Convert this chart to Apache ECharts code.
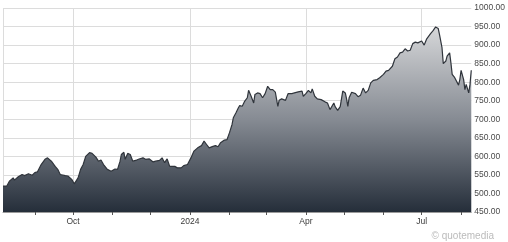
<!DOCTYPE html>
<html>
<head>
<meta charset="utf-8">
<script src="https://cdn.jsdelivr.net/npm/echarts@6/dist/echarts.min.js"></script>
<style>html,body{margin:0;padding:0;background:#fff}#c{width:508px;height:242px}</style>
</head>
<body>
<div id="c"></div>
<script>
var startDate = '2023-08-07';
var endDate = '2024-08-09';
var dates = ['2023-08-07','2023-08-10','2023-08-12','2023-08-15','2023-08-16','2023-08-19','2023-08-22','2023-08-24','2023-08-27','2023-08-30',
'2023-09-01','2023-09-03','2023-09-06','2023-09-09','2023-09-11','2023-09-14','2023-09-17','2023-09-19','2023-09-21','2023-09-25','2023-09-27','2023-09-30',
'2023-10-02','2023-10-05','2023-10-07','2023-10-09','2023-10-11','2023-10-14','2023-10-16','2023-10-19','2023-10-21','2023-10-23','2023-10-25','2023-10-26','2023-10-28','2023-10-31',
'2023-11-01','2023-11-03','2023-11-05','2023-11-07','2023-11-08','2023-11-10','2023-11-11','2023-11-12','2023-11-13','2023-11-15','2023-11-17','2023-11-20','2023-11-22','2023-11-25','2023-11-27','2023-11-30',
'2023-12-03','2023-12-05','2023-12-08','2023-12-10','2023-12-12','2023-12-14','2023-12-16','2023-12-17','2023-12-20','2023-12-22','2023-12-25','2023-12-27','2023-12-30',
'2024-01-02','2024-01-04','2024-01-05','2024-01-07','2024-01-10','2024-01-12','2024-01-14','2024-01-16','2024-01-19','2024-01-21','2024-01-23','2024-01-25','2024-01-28','2024-01-30',
'2024-02-01','2024-02-03','2024-02-04','2024-02-06','2024-02-08','2024-02-09','2024-02-11','2024-02-13','2024-02-15','2024-02-16','2024-02-18','2024-02-20','2024-02-21','2024-02-23','2024-02-25','2024-02-27','2024-02-29',
'2024-03-02','2024-03-04','2024-03-06','2024-03-08','2024-03-10','2024-03-11','2024-03-13','2024-03-16','2024-03-18','2024-03-21','2024-03-23','2024-03-26','2024-03-29','2024-03-30',
'2024-04-01','2024-04-03','2024-04-05','2024-04-06','2024-04-08','2024-04-10','2024-04-13','2024-04-14','2024-04-16','2024-04-18','2024-04-20','2024-04-21','2024-04-23','2024-04-24','2024-04-26','2024-04-28','2024-04-30',
'2024-05-02','2024-05-03','2024-05-04','2024-05-05','2024-05-07','2024-05-10','2024-05-12','2024-05-14','2024-05-16','2024-05-18','2024-05-20','2024-05-22','2024-05-24','2024-05-27','2024-05-29',
'2024-06-01','2024-06-03','2024-06-05','2024-06-08','2024-06-10','2024-06-12','2024-06-14','2024-06-16','2024-06-18','2024-06-20','2024-06-22','2024-06-24','2024-06-26','2024-06-28',
'2024-07-01','2024-07-03','2024-07-05','2024-07-08','2024-07-10','2024-07-12','2024-07-14','2024-07-15','2024-07-17','2024-07-18','2024-07-20','2024-07-21','2024-07-23','2024-07-24','2024-07-25','2024-07-27','2024-07-28','2024-07-30','2024-07-31',
'2024-08-01','2024-08-03','2024-08-04','2024-08-05','2024-08-07','2024-08-08','2024-08-09'];
var prices = [520,520,533,542,536,545,551,548,553,549,
556,558,578,592,596,587,573,565,551,548,547,538,
526,542,565,578,600,610,608,598,587,590,578,583,565,560,
556,566,565,587,605,611,592,596,608,605,587,590,593,596,592,593,
585,587,589,596,583,593,573,578,573,569,569,575,578,
598,614,618,623,629,641,632,623,627,629,626,637,644,645,
664,686,704,717,731,737,735,749,758,778,762,744,767,771,769,758,769,
789,780,780,773,735,751,755,751,769,769,771,774,776,762,
769,778,771,782,762,755,753,749,747,744,726,731,744,734,724,734,776,
771,755,735,758,773,769,761,765,784,771,778,798,805,807,812,
821,830,832,843,863,868,879,881,890,884,886,904,908,906,
911,900,917,931,939,949,945,929,893,850,857,870,879,852,821,812,807,792,807,
832,807,780,794,771,794,832];
var monthTicks = ['2023-09-01','2023-10-01','2023-11-01','2023-12-01','2024-01-01','2024-02-01','2024-03-01','2024-04-01','2024-05-01','2024-06-01','2024-07-01','2024-08-01'];
var labelDates = ['2023-10-01','2024-01-01','2024-04-01','2024-07-01'];
var labelTexts = ['Oct','2024','Apr','Jul'];
var yTicks = {min: 450, max: 1000, step: 50};

function dayNum(s){
  var p = s.split('-');
  return Math.round((Date.UTC(+p[0], +p[1]-1, +p[2]) - Date.UTC(2023,7,7)) / 864e5);
}
var xMin = dayNum(startDate), xMax = dayNum(endDate);
var seriesData = dates.map(function(d,i){ return [dayNum(d), prices[i]]; });
var labelDays = labelDates.map(dayNum);
var gridDays = [xMin].concat(labelDays);

var chart = echarts.init(document.getElementById('c'), null, {renderer:'canvas'});
chart.setOption({
  animation: false,
  grid: {left: 3, right: 35, top: 8, bottom: 30, containLabel: false},
  xAxis: [{
    type: 'value', min: xMin, max: xMax,
    axisLine: {show: true, lineStyle: {color: '#9a9a9a', width: 1}},
    axisTick: {show: true, length: 3, inside: false, customValues: monthTicks.map(dayNum), lineStyle: {color: '#555'}},
    axisLabel: {show: true, customValues: labelDays, margin: 5, color: '#3a3a3a', fontSize: 8.5, fontFamily: 'Liberation Sans',
      formatter: function(v){ var i = labelDays.indexOf(Math.round(v)); return i >= 0 ? labelTexts[i] : ''; }},
    splitLine: {show: false}
  }, {
    type: 'value', min: xMin, max: xMax, position: 'bottom',
    axisLine: {show: false},
    axisTick: {show: false, customValues: gridDays},
    axisLabel: {show: false},
    splitLine: {show: true, lineStyle: {color: '#dcdcdc', width: 1}}
  }],
  yAxis: {
    type: 'value', position: 'right', min: yTicks.min, max: yTicks.max, interval: yTicks.step,
    axisLine: {show: false}, axisTick: {show: false},
    axisLabel: {margin: 3, color: '#4a4a4a', fontSize: 8.5, fontFamily: 'Liberation Sans', formatter: function(v){ return v.toFixed(2); }},
    splitLine: {show: true, lineStyle: {color: '#dcdcdc', width: 1}}
  },
  series: [{
    type: 'line', xAxisIndex: 0, data: seriesData, symbol: 'none', smooth: false,
    lineStyle: {color: '#30353c', width: 1.2},
    areaStyle: {origin: 'start', opacity: 1, color: new echarts.graphic.LinearGradient(0, 0, 0, 1, [
      {offset: 0, color: '#d6d7d9'}, {offset: 0.5, color: '#868b93'}, {offset: 1, color: '#252e3a'}])}
  }],
  graphic: [{
    type: 'text', right: 14, top: 231,
    style: {text: '\u00a9 quotemedia', fill: '#bbbbbb', font: '10px "Liberation Sans"'}
  }]
});
</script>
</body>
</html>
